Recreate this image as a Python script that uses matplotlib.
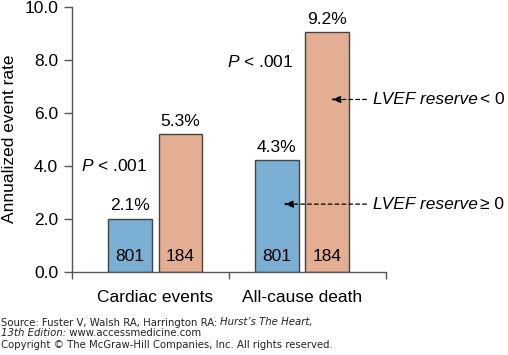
import matplotlib
matplotlib.use("Agg")
import matplotlib.pyplot as plt

categories = ["Cardiac events", "All-cause death"]
reserve_ge0 = [2.0, 4.2]     # LVEF reserve >= 0 (blue)
reserve_lt0 = [5.2, 9.05]    # LVEF reserve < 0 (orange)
labels_ge0 = ["2.1%", "4.3%"]
labels_lt0 = ["5.3%", "9.2%"]
n_ge0 = ["801", "801"]
n_lt0 = ["184", "184"]
yticks = [0, 2, 4, 6, 8, 10]

plt.rcParams['font.family'] = ['Liberation Sans', 'DejaVu Sans']
plt.rcParams['mathtext.fontset'] = 'custom'
plt.rcParams['mathtext.it'] = 'Liberation Sans:italic'
plt.rcParams['mathtext.rm'] = 'Liberation Sans'
plt.rcParams['mathtext.default'] = 'regular'

W, H = 508, 355
fig = plt.figure(figsize=(W/100, H/100), dpi=100)
ax = fig.add_axes([72/W, 83.3/H, 314/W, 265/H])

centers = [0.53, 1.465]
off = 0.161
w = 0.28
blue = "#7aafd3"
orange = "#e4ae93"
edge = "#444444"

xb = [c - off for c in centers]
xo = [c + off for c in centers]
ax.bar(xb, reserve_ge0, width=w, color=blue, edgecolor=edge, linewidth=1.0, zorder=2)
ax.bar(xo, reserve_lt0, width=w, color=orange, edgecolor=edge, linewidth=1.0, zorder=2)

fs = 12.5
for x, v, l, n in zip(xb, reserve_ge0, labels_ge0, n_ge0):
    ax.text(x, v + 0.2, l, ha="center", va="bottom", fontsize=fs)
    ax.text(x, 0.58, n, ha="center", va="center", fontsize=fs)
for x, v, l, n in zip(xo, reserve_lt0, labels_lt0, n_lt0):
    ax.text(x, v + 0.2, l, ha="center", va="bottom", fontsize=fs)
    ax.text(x, 0.58, n, ha="center", va="center", fontsize=fs)

# P values
for (x0, y0) in [(0.06, 4.0), (0.99, 7.9)]:
    ax.text(x0, y0, r"$\mathit{P}$ < .001", fontsize=fs, ha="left", va="center")

ax.set_xlim(0, 2)
ax.set_ylim(0, 10)

# Legend-like arrows
lfs = 12.5
arrow_items = [(xo[1] + 0.02, 6.5, "< 0"),
               (xb[1] + 0.04, 2.55, "\u2265 0")]
for xa, ya, tail in arrow_items:
    ax.annotate("", xy=(xa, ya), xytext=(1.875, ya),
                arrowprops=dict(arrowstyle="-|>,head_length=0.6,head_width=0.2",
                                color="black", linestyle=(0, (3, 2.5)), lw=0.9,
                                shrinkA=0, shrinkB=0),
                annotation_clip=False, zorder=3)
    t = ax.text(1.915, ya, "LVEF reserve", fontsize=lfs, style="italic",
                ha="left", va="center", clip_on=False)
    fig.canvas.draw()
    bb = t.get_window_extent()
    xr = ax.transData.inverted().transform((bb.x1 + 2.5, 0))[0]
    ax.text(xr, ya, tail, fontsize=lfs, ha="left", va="center", clip_on=False,
            family=["Liberation Sans", "DejaVu Sans"])

ax.set_yticks(yticks)
ax.set_yticklabels([f"{v:.1f}" for v in yticks], fontsize=fs)
ax.set_xticks(centers)
ax.set_xticklabels(categories, fontsize=fs)
ax.tick_params(axis="x", which="major", length=0, pad=13)
ax.set_xticks([0, 1, 2], minor=True)
ax.tick_params(axis="x", which="minor", length=5, width=1, color="#555555")
ax.tick_params(axis="y", length=6, width=1, color="#555555", pad=4)
ax.set_ylabel("Annualized event rate", fontsize=fs, labelpad=5)
for s in ["top", "right"]:
    ax.spines[s].set_visible(False)
for s in ["left", "bottom"]:
    ax.spines[s].set_color("#555555")
    ax.spines[s].set_linewidth(1.0)

src_fs = 7.3
y1, y2, y3 = 1 - 322.5/H, 1 - 333.5/H, 1 - 344.5/H
t1 = fig.text(1/W, y1, "Source: Fuster V, Walsh RA, Harrington RA: ", fontsize=src_fs,
              family="DejaVu Sans", va="center", ha="left", color="#222222")
fig.canvas.draw()
bb = t1.get_window_extent()
fig.text(bb.x1 / W, y1, "Hurst\u2019s The Heart,", fontsize=src_fs,
         family="DejaVu Sans", style="italic", va="center", ha="left", color="#222222")
t2 = fig.text(1/W, y2, "13th Edition:", fontsize=src_fs, family="DejaVu Sans",
              style="italic", va="center", ha="left", color="#222222")
fig.canvas.draw()
bb2 = t2.get_window_extent()
fig.text(bb2.x1 / W, y2, " www.accessmedicine.com", fontsize=src_fs,
         family="DejaVu Sans", va="center", ha="left", color="#222222")
fig.text(1/W, y3, "Copyright \u00a9 The McGraw-Hill Companies, Inc. All rights reserved.",
         fontsize=src_fs, family="DejaVu Sans", va="center", ha="left", color="#222222")

fig.savefig("out.png", dpi=100)
